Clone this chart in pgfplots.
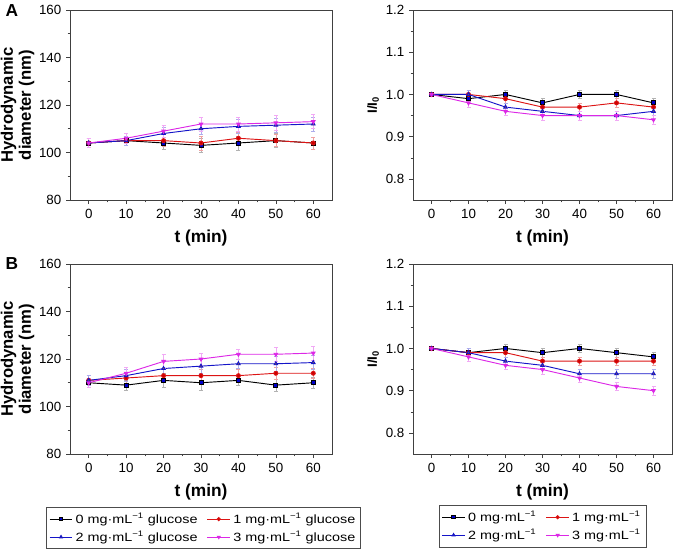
\documentclass[border=0pt]{standalone}
\usepackage{fontspec}
\setmainfont{Liberation Sans}
\newfontfamily\legfont[FakeStretch=1.2]{Liberation Sans}
\usepackage{pgfplots}
\pgfplotsset{compat=1.18}

\definecolor{cblack}{RGB}{0,0,0}
\definecolor{cred}{RGB}{220,20,20}
\definecolor{cblue}{RGB}{20,20,200}
\definecolor{cmag}{RGB}{220,40,230}

\pgfplotsset{
  panel/.style={
    scale only axis,
    anchor=south west,
    xmin=-5, xmax=65,
    xtick={0,10,...,60},
    minor x tick num=1,
    minor y tick num=1,
    tick align=outside,
    tick pos=left,
    major tick length=3pt,
    minor tick length=1.8pt,
    axis line style={black!75},
    every tick/.style={black!75},
    /pgf/number format/assume math mode=true,
    tick label style={font=\fontsize{10}{12}\selectfont},
    xlabel={\textbf{t (min)}},
    xlabel style={font=\fontsize{13}{15}\selectfont, at={(axis description cs:0.5,-0.2)}, anchor=center},
    every axis plot/.append style={line width=0.7pt, mark size=1.5pt},
    error bars/y dir=both,
    error bars/y explicit,
    legend cell align=left,
    legend columns=2,
    legend image post style={mark size=1.2pt},
    legend style={font=\legfont\fontsize{9}{11}\selectfont, draw=black!70,
      /tikz/every even column/.append style={column sep=5pt},
      inner sep=2pt, row sep=0pt},
  },
  hd/.style={panel, width=196.5pt, height=142.5pt,
    ymin=80, ymax=160, ytick={80,100,...,160},
    ylabel={\textbf{Hydrodynamic}\\\textbf{diameter (nm)}},
    ylabel style={font=\fontsize{12.5}{13.5}\selectfont, align=center,
      at={(axis description cs:-0.2,0.5)}, anchor=center},
  },
  ri/.style={panel, width=194.25pt, height=142.5pt,
    ymin=0.75, ymax=1.2, ytick={0.8,0.9,...,1.2},
    yticklabel style={/pgf/number format/.cd, fixed, fixed zerofill, precision=1},
    ylabel={\textbf{I/I\textsubscript{0}}},
    ylabel style={font=\fontsize{10}{12}\selectfont,
      at={(axis description cs:-0.154,0.5)}, anchor=center},
  },
  s0/.style={color=cblack, mark=square*, /pgfplots/error bars/error bar style={color=gray!60, line width=0.5pt}},
  s1/.style={color=cred, mark=*, /pgfplots/error bars/error bar style={color=cred!40, line width=0.5pt}},
  s2/.style={color=cblue, mark=triangle*, /pgfplots/error bars/error bar style={color=cblue!35, line width=0.5pt}},
  s3/.style={color=cmag, mark=triangle*, mark options={rotate=180}, /pgfplots/error bars/error bar style={color=cmag!40, line width=0.5pt}},
}

\begin{document}
\begin{tikzpicture}
\useasboundingbox (0,0) rectangle (505.5pt,-411.75pt);

\node[font=\bfseries\fontsize{13}{15}\selectfont] at (9pt,-8pt) {A};
\node[font=\bfseries\fontsize{13}{15}\selectfont] at (9pt,-198pt) {B};

% A, left
\begin{axis}[hd, at={(52.5pt,-150pt)}]
\addplot+[s0] table[y error=e] {
x y e
0 104 2
10 105 2
20 104 2.5
30 103 3
40 104 3
50 105 3
60 104 2.5
};
\addplot+[s1] table[y error=e] {
x y e
0 104 2
10 105 2
20 105 2.5
30 104 3
40 106 2.5
50 105 2.5
60 104 2.5
};
\addplot+[s2] table[y error=e] {
x y e
0 104 2
10 105 2
20 108 2.5
30 110 2.5
40 111 3
50 111.5 3
60 112 3
};
\addplot+[s3] table[y error=e] {
x y e
0 104 2
10 106 2
20 109 2.5
30 112 3
40 112 3
50 112.5 3
60 113 3
};
\end{axis}

% A, right
\begin{axis}[ri, at={(309.75pt,-150pt)}]
\addplot+[s0] table[y error=e] {
x y e
0 1.0 0.005
10 0.99 0.01
20 1.0 0.01
30 0.98 0.01
40 1.0 0.01
50 1.0 0.01
60 0.98 0.01
};
\addplot+[s1] table[y error=e] {
x y e
0 1.0 0.005
10 1.0 0.01
20 0.99 0.01
30 0.97 0.01
40 0.97 0.01
50 0.98 0.01
60 0.97 0.01
};
\addplot+[s2] table[y error=e] {
x y e
0 1.0 0.005
10 1.0 0.01
20 0.97 0.01
30 0.96 0.01
40 0.95 0.01
50 0.95 0.01
60 0.96 0.01
};
\addplot+[s3] table[y error=e] {
x y e
0 1.0 0.005
10 0.98 0.01
20 0.96 0.01
30 0.95 0.01
40 0.95 0.01
50 0.95 0.01
60 0.94 0.01
};
\end{axis}

% B, left
\begin{axis}[hd, at={(52.5pt,-340.5pt)},
  legend style={at={(axis description cs:0.51,-0.28)}, anchor=north}]
\addplot+[s0] table[y error=e] {
x y e
0 110 2
10 109 2
20 111 3
30 110 3
40 111 2
50 109 2.5
60 110 2.5
};
\addplot+[s1] table[y error=e] {
x y e
0 111 2
10 112 2.5
20 113 3
30 113 2.5
40 113 2.5
50 114 2.5
60 114 2
};
\addplot+[s2] table[y error=e] {
x y e
0 111 2
10 113 2.5
20 116 3
30 117 3
40 118 2
50 118 3
60 118.5 3
};
\addplot+[s3] table[y error=e] {
x y e
0 110 2
10 114 2.5
20 119 3
30 120 2.5
40 122 2
50 122 3
60 122.5 3
};
\legend{0 mg·mL\textsuperscript{−1} glucose, 1 mg·mL\textsuperscript{−1} glucose,
        2 mg·mL\textsuperscript{−1} glucose, 3 mg·mL\textsuperscript{−1} glucose}
\end{axis}

% B, right
\begin{axis}[ri, at={(309.75pt,-340.5pt)},
  legend style={at={(axis description cs:0.5,-0.27)}, anchor=north}]
\addplot+[s0] table[y error=e] {
x y e
0 1.0 0.005
10 0.99 0.01
20 1.0 0.01
30 0.99 0.01
40 1.0 0.01
50 0.99 0.01
60 0.98 0.01
};
\addplot+[s1] table[y error=e] {
x y e
0 1.0 0.005
10 0.99 0.01
20 0.99 0.01
30 0.97 0.01
40 0.97 0.01
50 0.97 0.01
60 0.97 0.01
};
\addplot+[s2] table[y error=e] {
x y e
0 1.0 0.005
10 0.99 0.01
20 0.97 0.01
30 0.96 0.01
40 0.94 0.01
50 0.94 0.01
60 0.94 0.01
};
\addplot+[s3] table[y error=e] {
x y e
0 1.0 0.005
10 0.98 0.01
20 0.96 0.01
30 0.95 0.01
40 0.93 0.01
50 0.91 0.01
60 0.90 0.01
};
\legend{0 mg·mL\textsuperscript{−1}, 1 mg·mL\textsuperscript{−1},
        2 mg·mL\textsuperscript{−1}, 3 mg·mL\textsuperscript{−1}}
\end{axis}
\end{tikzpicture}
\end{document}
